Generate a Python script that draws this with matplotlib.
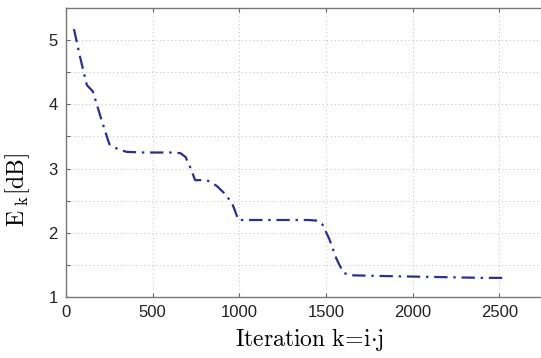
import matplotlib
matplotlib.use('Agg')
import matplotlib.pyplot as plt
import numpy as np

# values
iterations = [46, 80, 120, 155, 200, 250, 300, 350, 450, 550, 620, 660, 690, 720,
              745, 780, 820, 870, 920, 960, 995, 1100, 1200, 1300, 1400, 1450,
              1480, 1520, 1560, 1600, 1640, 1800, 2000, 2200, 2400, 2550]
error_db = [5.17, 4.75, 4.30, 4.20, 3.80, 3.38, 3.30, 3.26, 3.25, 3.25, 3.25, 3.24,
            3.18, 3.00, 2.82, 2.82, 2.81, 2.73, 2.60, 2.45, 2.20, 2.20, 2.20, 2.20,
            2.20, 2.19, 2.13, 1.90, 1.60, 1.38, 1.34, 1.33, 1.32, 1.31, 1.30, 1.30]
x_ticks = [0, 500, 1000, 1500, 2000, 2500]
y_ticks = [1, 1.5, 2, 2.5, 3, 3.5, 4, 4.5, 5]

plt.rcParams['mathtext.fontset'] = 'cm'
plt.rcParams['font.family'] = ['Liberation Sans', 'DejaVu Sans']

fig = plt.figure(figsize=(5.41, 3.58), dpi=100)
ax = fig.add_axes([0.122, 0.170, 0.961, 0.808])

ax.plot(iterations, error_db, color='#2b2f8f', lw=1.6, dashes=[6, 2.6, 1.1, 2.6])

ax.set_xlim(0, 3000)
ax.set_ylim(1, 5.5)
ax.set_xticks(x_ticks)
ax.set_xticklabels([str(t) for t in x_ticks])
ax.set_yticks(y_ticks)
ax.set_yticklabels([str(int(t)) if float(t).is_integer() else '' for t in y_ticks])

ax.grid(True, linestyle=(0, (1, 3)), color='#bdbdbd', lw=0.7)
ax.tick_params(direction='in', length=3, color='#666666', labelsize=12,
               labelcolor='#222222', top=True, right=False, pad=6)
for s in ax.spines.values():
    s.set_color('#777777')
    s.set_linewidth(1.0)
ax.spines['right'].set_visible(False)

ax.set_xlabel(r'$\mathrm{Iteration\ k\!=\!i{\cdot}j}$', fontsize=17)
ax.xaxis.set_label_coords(0.469, -0.10)
ax.set_ylabel(r'$\mathrm{E}_{\mathrm{\ k}}\mathrm{[dB]}$', fontsize=17)
ax.yaxis.set_label_coords(-0.066, 0.37)

fig.savefig('out.png', dpi=100)
